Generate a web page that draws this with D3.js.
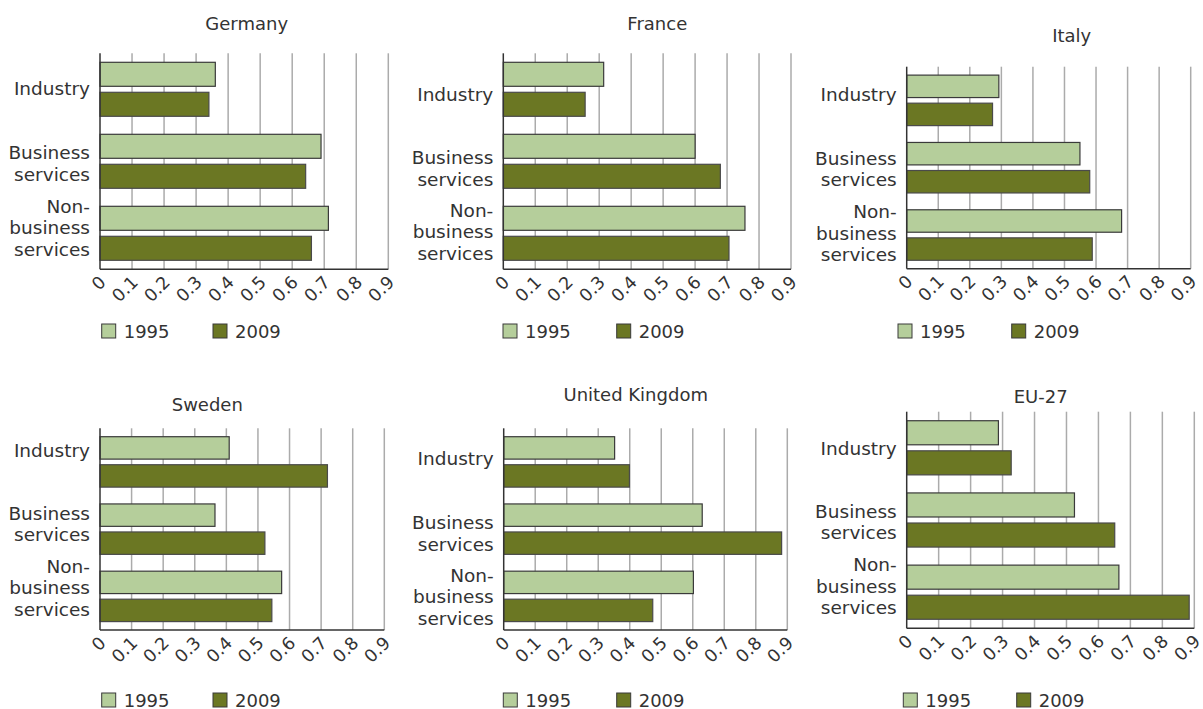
<!DOCTYPE html>
<html>
<head>
<meta charset="utf-8">
<script src="https://cdn.jsdelivr.net/npm/d3@7"></script>
<style>
  html, body { margin: 0; padding: 0; background: #fff; }
  svg { display: block; font-family: "DejaVu Sans", Verdana, sans-serif; }
</style>
</head>
<body>
<svg id="chart" width="1203" height="709"></svg>
<script>
// ---- data ----
const categories = ["Industry", "Business services", "Non-business services"];
const categoryLines = [["Industry"], ["Business", "services"], ["Non-", "business", "services"]];
const years = ["1995", "2009"];
const tickValues = [0, 0.1, 0.2, 0.3, 0.4, 0.5, 0.6, 0.7, 0.8, 0.9];
const tickLabels = ["0", "0.1", "0.2", "0.3", "0.4", "0.5", "0.6", "0.7", "0.8", "0.9"];
const countries = ["Germany", "France", "Italy", "Sweden", "United Kingdom", "EU-27"];
const germany1995 = [0.36, 0.69, 0.713];
const germany2009 = [0.34, 0.642, 0.66];
const france1995 = [0.314, 0.60, 0.756];
const france2009 = [0.256, 0.679, 0.706];
const italy1995 = [0.292, 0.549, 0.681];
const italy2009 = [0.272, 0.58, 0.588];
const sweden1995 = [0.409, 0.364, 0.575];
const sweden2009 = [0.72, 0.522, 0.544];
const uk1995 = [0.352, 0.63, 0.602];
const uk2009 = [0.399, 0.882, 0.473];
const eu1995 = [0.287, 0.525, 0.664];
const eu2009 = [0.327, 0.651, 0.884];
const seriesByCountry = [
  [germany1995, germany2009], [france1995, france2009], [italy1995, italy2009],
  [sweden1995, sweden2009], [uk1995, uk2009], [eu1995, eu2009]
];

// ---- layout (positions only) ----
const panels = [
  {x0: 100,   x9: 388.3,  top: 53.3,  bottom: 269.3, tx: 246.7,  ty: 29.7,  lx: 101.7, lx2: 213,    ly: 324, ldy: [-1, 2, -6]},
  {x0: 503.3, x9: 791,    top: 53.3,  bottom: 269.3, tx: 657.3,  ty: 29.7,  lx: 503,   lx2: 616.7,  ly: 324, ldy: [4.5, 7, -2]},
  {x0: 906.7, x9: 1190.7, top: 66.7,  bottom: 268.7, tx: 1071.7, ty: 42.3,  lx: 898,   lx2: 1011.7, ly: 324, ldy: [-6.5, 1, -2]},
  {x0: 100,   x9: 384.3,  top: 428.3, bottom: 630,   tx: 207.3,  ty: 411.3, lx: 101.7, lx2: 213,    ly: 693, ldy: [-12, -5.4, -9]},
  {x0: 503.7, x9: 787.3,  top: 428.3, bottom: 630,   tx: 635.7,  ty: 401.3, lx: 503.3, lx2: 616.7,  ly: 693, ldy: [-3.7, 4, 0]},
  {x0: 906.7, x9: 1194.3, top: 411.7, bottom: 628.3, tx: 1040.7, ty: 403,   lx: 903.3, lx2: 1016.7, ly: 693, ldy: [0, 2, -6]}
];

const fills = ["#b5ce9b", "#6b7723"];
const strokes = ["#3a3a3a", "#4a4a4a"];
const textColor = "#333";

const svg = d3.select("#chart");

panels.forEach((p, i) => {
  const g = svg.append("g");
  const x = d3.scaleLinear().domain([0, 0.9]).range([p.x0, p.x9]);
  const y = d3.scaleBand().domain(categories).range([p.top, p.bottom]);
  const yi = d3.scaleBand().domain(years).range([0, y.bandwidth()]).paddingInner(0.2).paddingOuter(0.3);

  // gridlines
  g.append("g").selectAll("line").data(tickValues.slice(1)).join("line")
    .attr("x1", d => x(d)).attr("x2", d => x(d))
    .attr("y1", p.top).attr("y2", p.bottom)
    .attr("stroke", "#ababab").attr("stroke-width", 1.5);

  // bars
  const series = seriesByCountry[i];
  years.forEach((yr, s) => {
    g.append("g").selectAll("rect").data(series[s]).join("rect")
      .attr("x", x(0))
      .attr("y", (d, k) => y(categories[k]) + yi(yr))
      .attr("width", d => x(d) - x(0))
      .attr("height", yi.bandwidth())
      .attr("fill", fills[s])
      .attr("stroke", strokes[s]).attr("stroke-width", 1.2);
  });

  // axes lines
  g.append("line").attr("x1", p.x0).attr("x2", p.x0).attr("y1", p.top).attr("y2", p.bottom)
    .attr("stroke", "#333").attr("stroke-width", 1.5);
  g.append("line").attr("x1", p.x0).attr("x2", p.x9).attr("y1", p.bottom).attr("y2", p.bottom)
    .attr("stroke", "#333").attr("stroke-width", 1.5);

  // x tick labels (rotated)
  g.append("g").selectAll("text").data(tickValues).join("text")
    .attr("transform", d => `translate(${x(d) + 7},${p.bottom + 14}) rotate(-45)`)
    .attr("text-anchor", "end")
    .attr("font-size", 17.5).attr("fill", textColor)
    .text((d, k) => tickLabels[k]);

  // category labels
  const lh = 21.5;
  categoryLines.forEach((lines, k) => {
    const cy = y(categories[k]) + y.bandwidth() / 2 + p.ldy[k];
    const t = g.append("text").attr("text-anchor", "end").attr("font-size", 18.5).attr("fill", textColor);
    lines.forEach((ln, j) => {
      t.append("tspan").attr("x", p.x0 - 10)
        .attr("y", cy + (j - (lines.length - 1) / 2) * lh + 6.7)
        .text(ln);
    });
  });

  // title
  g.append("text").attr("x", p.tx).attr("y", p.ty).attr("text-anchor", "middle")
    .attr("font-size", 18).attr("fill", textColor).text(countries[i]);

  // legend
  [p.lx, p.lx2].forEach((lx, s) => {
    g.append("rect").attr("x", lx).attr("y", p.ly).attr("width", 14).attr("height", 14)
      .attr("fill", fills[s]).attr("stroke", "#3a3a3a").attr("stroke-width", 1);
    g.append("text").attr("x", lx + 22).attr("y", p.ly + 13.5)
      .attr("font-size", 18).attr("fill", textColor).text(years[s]);
  });
});
</script>
</body>
</html>
